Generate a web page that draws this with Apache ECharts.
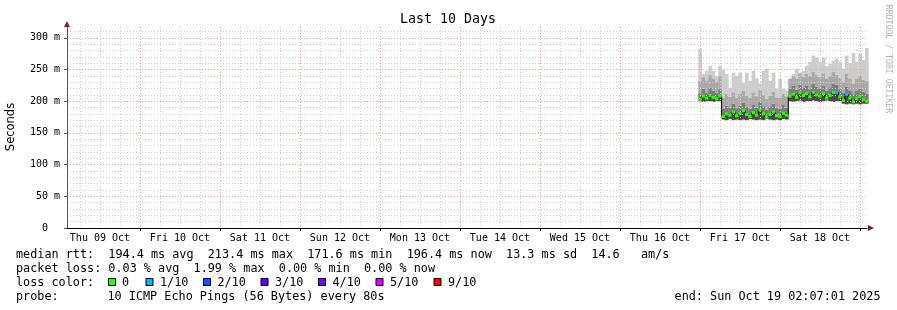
<!DOCTYPE html>
<html><head><meta charset="utf-8">
<script src="https://cdn.jsdelivr.net/npm/echarts@6/dist/echarts.min.js"></script>
<style>html,body{margin:0;padding:0;background:#fff}#c{width:897px;height:310px}</style>
</head><body><div id="c"></div>
<script>
// ---- data (hours since Thu 09 Oct 00:00) ----
const dayLabels = ['Thu 09 Oct','Fri 10 Oct','Sat 11 Oct','Sun 12 Oct','Mon 13 Oct','Tue 14 Oct','Wed 15 Oct','Thu 16 Oct','Fri 17 Oct','Sat 18 Oct'];
const yTickValues = [0, 50, 100, 150, 200, 250, 300];
const startHour = 192; // Fri 17 Oct 00:00, hourly samples
const rttMin = [200,199,200,200,199,200,200,
  171,170,172,170,171,170,171,170,172,171,170,171,170,172,171,170,171,170,172,171,
  200,199,200,201,199,200,200,201,200,199,200,201,200,199,200,200,
  196,195,196,195,196,195,196,196];
const rttMedian = [203,208,205,209,206,204,208,
  176,180,178,183,177,181,185,179,176,182,178,186,180,175,179,183,177,176,181,178,
  208,211,206,213,209,212,207,214,210,208,212,205,209,214,214,207,
  201,211,205,199,204,207,203,200];
const rttP70 = [213,220,214,221,217,213,219,
  188,193,190,196,189,193,198,191,188,195,190,199,192,187,191,196,189,188,194,190,
  220,224,218,226,221,225,219,227,223,220,225,217,222,227,226,219,
  213,223,217,211,216,220,215,212];
const rttP90 = [232,238,233,242,236,231,240,
  205,212,207,214,206,212,216,209,205,214,208,218,210,204,209,215,206,205,212,207,
  235,240,236,244,238,243,240,247,241,238,244,236,240,246,242,237,
  230,244,236,228,236,240,234,232];
const rttMax = [283,243,248,256,248,240,256,
  250,243,221,245,240,245,229,245,232,248,236,228,248,251,232,245,220,235,220,217,
  236,243,251,245,248,256,262,272,269,262,269,255,259,264,267,262,
  251,272,260,276,262,275,265,284];
const lossTenths = [0,0,0,0,0,0,0,
  0,0,0,0,0,0,0,0,0,0,0,0,0,0,0,0,0,0,0,0,
  0,0,0,0,0,0,0,0,0,0,0,0,0,0,1,0,
  0,1,0,0,0,0,0,0];
const lossColors = {0:'#26ff00',1:'#00b8ff',2:'#0059ff',3:'#5e00ff',4:'#7e00ff',5:'#dd00ff',9:'#ff0000'};

const X_MIN = 2 + 7/60 + 1/3600, X_MAX = X_MIN + 240;
const times = rttMin.map((_, i) => startHour + i);

const redX = [], greyX = [], noonX = [], yMinor = [];
for (let h = 6; h < X_MAX; h += 6) { if (h > X_MIN) (h % 24 === 0 ? redX : greyX).push(h); }
for (let d = 0; d < dayLabels.length; d++) noonX.push(12 + 24 * d);
for (let v = 10; v <= 310; v += 10) if (v % 50 !== 0) yMinor.push(v);

const MONO = '"DejaVu Sans Mono", monospace';
const RED = '#ff9c9c', GREY = '#cfcfcf';
const bandColors = ['#4a4a4a', '#7c7c7c', '#a9a9a9', '#cdcdcd'];

function renderSmoke(params, api) {
  const t = api.value(0);
  const children = [];
  for (let b = 0; b < 4; b++) {
    const lo = api.value(1 + b), hi = api.value(2 + b);
    const p0 = api.coord([t - 0.5, hi]);
    const p1 = api.coord([t + 0.5, lo]);
    children.push({type:'rect', shape:{x:p0[0], y:p0[1], width:p1[0] - p0[0] + 0.4, height:p1[1] - p0[1]},
      style:{fill:bandColors[b]}});
  }
  return {type:'group', children};
}

const chart = echarts.init(document.getElementById('c'), null, {renderer:'canvas'});
const txt = (x, y, text, extra) => ({type:'text', x, y, silent:true,
  style: Object.assign({text, font:'11.8px ' + MONO, fill:'#000', verticalAlign:'middle', align:'left'}, extra || {})});
const box = (x, c) => ({type:'rect', shape:{x, y:278.5, width:7, height:7}, style:{fill:c, stroke:'#000', lineWidth:1}});
const hiddenTick = vals => ({show:true, customValues:vals, length:0, lineStyle:{opacity:0}});

chart.setOption({
  animation:false,
  backgroundColor:'#fff',
  grid:{left:67, right:30, top:27, bottom:82},
  xAxis:[
    {type:'value', min:X_MIN, max:X_MAX, z:5,
      axisLine:{show:true, lineStyle:{color:'#000', width:1}},
      axisTick:{show:true, customValues:redX, length:3, lineStyle:{color:'#000'}},
      axisLabel:{customValues:noonX, formatter:v => dayLabels[Math.round((v - 12) / 24)],
        fontFamily:MONO, fontSize:10, color:'#000', margin:5},
      splitLine:{show:true, lineStyle:{color:RED, type:[1,2], width:1}}},
    {type:'value', min:X_MIN, max:X_MAX, z:4,
      axisLine:{show:false}, axisTick:hiddenTick(greyX), axisLabel:{show:false},
      splitLine:{show:true, lineStyle:{color:GREY, type:[1,2], width:1}}}
  ],
  yAxis:[
    {type:'value', min:0, max:317, z:5,
      axisLine:{show:true, lineStyle:{color:'#555', width:1}},
      axisTick:{show:true, customValues:yTickValues, length:3, lineStyle:{color:'#555'}},
      axisLabel:{customValues:yTickValues, formatter:v => v === 0 ? '0  ' : v + ' m',
        fontFamily:MONO, fontSize:10, color:'#000', margin:7},
      splitLine:{show:true, lineStyle:{color:RED, type:[1,2], width:1}}},
    {type:'value', min:0, max:317, z:4,
      axisLine:{show:false}, axisTick:hiddenTick(yMinor), axisLabel:{show:false},
      splitLine:{show:true, lineStyle:{color:GREY, type:[1,2], width:1}}}
  ],
  series:[
    {type:'custom', renderItem:renderSmoke, silent:true, z:2,
      encode:{x:0, y:[1,2,3,4,5]},
      data:times.map((t, i) => [t, rttMin[i], rttMedian[i], rttP70[i], rttP90[i], rttMax[i]])},
    {type:'line', step:'middle', symbol:'none', silent:true, z:9,
      data:rttMedian.map((v, i) => [times[i], v]),
      lineStyle:{color:'#000', width:1}},
    {type:'scatter', symbol:'rect', symbolSize:[3.4,3], silent:true, z:10,
      data:rttMedian.map((v, i) => [times[i], v, lossTenths[i]]),
      itemStyle:{color:p => lossColors[p.data[2]], opacity:1}}
  ],
  graphic:[
    txt(448, 19.5, 'Last 10 Days', {font:'13.3px ' + MONO, align:'center'}),
    {type:'text', x:11.5, y:127, rotation:Math.PI/2, silent:true,
      style:{text:'Seconds', font:'11.5px "DejaVu Sans", sans-serif', fill:'#000', align:'center', verticalAlign:'middle'}},
    {type:'text', x:888, y:59, rotation:-Math.PI/2, silent:true,
      style:{text:'RRDTOOL / TOBI OETIKER', font:'8.2px ' + MONO, fill:'#b4b4b4', align:'center', verticalAlign:'middle'}},
    {type:'polygon', shape:{points:[[64,27],[70,27],[67,21]]}, style:{fill:'#8b1c1c'}, z:20},
    {type:'polygon', shape:{points:[[868,225],[868,231],[874,228]]}, style:{fill:'#8b1c1c'}, z:20},
    txt(16, 255, 'median rtt:  194.4 ms avg  213.4 ms max  171.6 ms min  196.4 ms now  13.3 ms sd  14.6   am/s'),
    txt(16, 268.5, 'packet loss: 0.03 % avg  1.99 % max  0.00 % min  0.00 % now'),
    txt(16, 282.5, 'loss color:'),
    box(108.5, lossColors[0]), txt(122, 282.5, '0'),
    box(146, lossColors[1]), txt(160, 282.5, '1/10'),
    box(203.5, lossColors[2]), txt(217.5, 282.5, '2/10'),
    box(261, lossColors[3]), txt(275, 282.5, '3/10'),
    box(318.5, lossColors[4]), txt(332.5, 282.5, '4/10'),
    box(376, lossColors[5]), txt(390, 282.5, '5/10'),
    box(434, lossColors[9]), txt(448, 282.5, '9/10'),
    txt(16, 296.5, 'probe:'),
    txt(107.5, 296.5, '10 ICMP Echo Pings (56 Bytes) every 80s'),
    txt(880.5, 296.5, 'end: Sun Oct 19 02:07:01 2025', {align:'right'})
  ]
});
</script></body></html>
